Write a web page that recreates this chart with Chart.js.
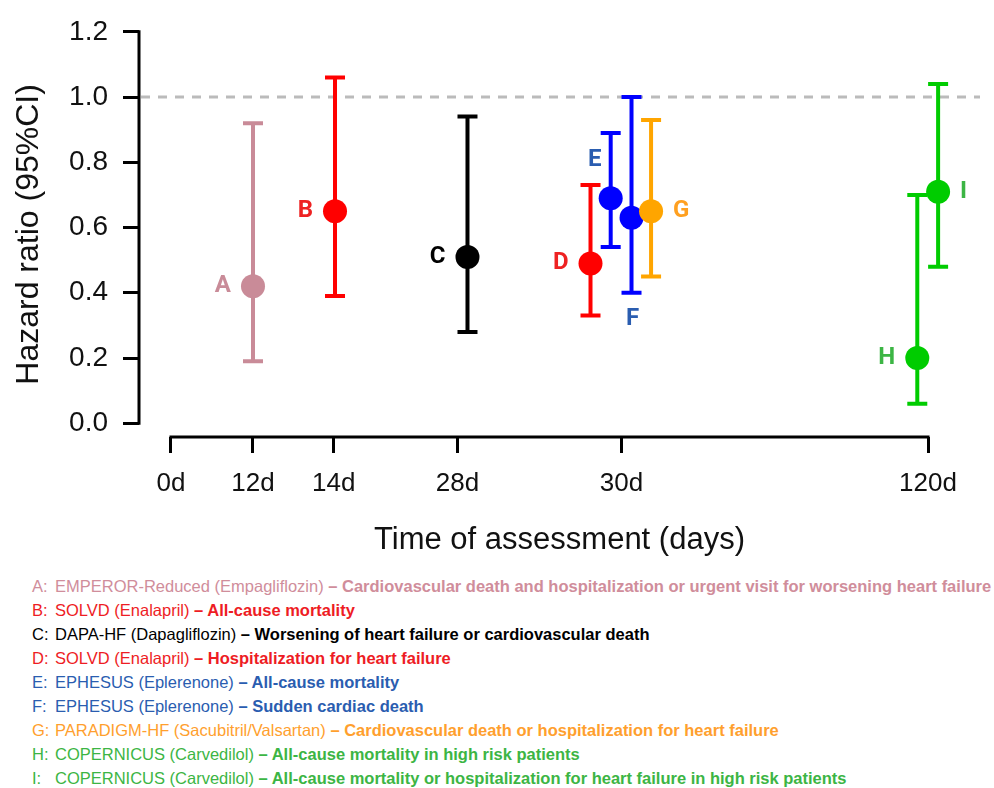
<!DOCTYPE html>
<html>
<head>
<meta charset="utf-8">
<script src="https://cdn.jsdelivr.net/npm/chart.js@4.4.1/dist/chart.umd.min.js"></script>
<style>
  html, body { margin: 0; padding: 0; background: #ffffff; }
  #wrap { position: relative; width: 994px; height: 788px; overflow: hidden; background: #fff; }
  #chartBox { position: absolute; left: 0; top: 0; width: 994px; height: 560px; }
  #legend { position: absolute; left: 32px; top: 574px; font-family: 'Liberation Sans', Arial, sans-serif;
            font-size: 16.5px; line-height: 24px; white-space: nowrap; }
  #legend .k { display: inline-block; width: 23px; }
  #legend b { font-weight: bold; }
</style>
</head>
<body>
<div id="wrap">
  <div id="chartBox"><canvas id="c"></canvas></div>
  <div id="legend"></div>
</div>
<script>
// ---------------- data ----------------
const tickLabels    = ['0d', '12d', '14d', '28d', '30d', '120d'];
const tickPositions = [0, 13.0, 25.8, 45.4, 71.4, 120];          // axis slot positions of the tick labels
const studyLetters   = ['A', 'B', 'C', 'D', 'E', 'F', 'G', 'H', 'I'];
const studyPositions = [13.0, 26.0, 47.0, 66.5, 69.7, 73.0, 76.1, 118.3, 121.6];
const hazardRatio    = [0.42, 0.65, 0.51, 0.49, 0.69, 0.63, 0.65, 0.20, 0.71];
const ciLower        = [0.19, 0.39, 0.28, 0.33, 0.54, 0.40, 0.45, 0.06, 0.48];
const ciUpper        = [0.92, 1.06, 0.94, 0.73, 0.89, 1.00, 0.93, 0.70, 1.04];
const yTickValues    = [0.0, 0.2, 0.4, 0.6, 0.8, 1.0, 1.2];
const referenceValue = 1.0;
const trialNames = [
  'EMPEROR-Reduced (Empagliflozin)', 'SOLVD (Enalapril)', 'DAPA-HF (Dapagliflozin)',
  'SOLVD (Enalapril)', 'EPHESUS (Eplerenone)', 'EPHESUS (Eplerenone)',
  'PARADIGM-HF (Sacubitril/Valsartan)', 'COPERNICUS (Carvedilol)', 'COPERNICUS (Carvedilol)'
];
const outcomes = [
  'Cardiovascular death and hospitalization or urgent visit for worsening heart failure',
  'All-cause mortality',
  'Worsening of heart failure or cardiovascular death',
  'Hospitalization for heart failure',
  'All-cause mortality',
  'Sudden cardiac death',
  'Cardiovascular death or hospitalization for heart failure',
  'All-cause mortality in high risk patients',
  'All-cause mortality or hospitalization for heart failure in high risk patients'
];

// ---------------- styles ----------------
const markColors   = ['#c98b98', '#ff0000', '#000000', '#ff0000', '#0000ff', '#0000ff', '#ffa500', '#00cc00', '#00cc00'];
const labelColors  = ['#c98b98', '#ee2222', '#000000', '#ee2222', '#2a5db0', '#2a5db0', '#ffa020', '#3cb544', '#3cb544'];
const legendColors = ['#d08d9b', '#ee1c24', '#000000', '#ee1c24', '#2a5db0', '#2a5db0', '#ff9f2e', '#3cb544', '#3cb544'];
const labelPlacement = ['left', 'left', 'left', 'left', 'aboveLeft', 'below', 'right', 'left', 'right'];
const REGULAR = "'Liberation Sans', Arial, sans-serif";

// ---------------- legend (HTML text) ----------------
const legendEl = document.getElementById('legend');
studyLetters.forEach((L, i) => {
  const row = document.createElement('div');
  row.style.color = legendColors[i];
  row.innerHTML = '<span class="k">' + L + ':</span>' + trialNames[i] + ' <b>\u2013 ' + outcomes[i] + '</b>';
  legendEl.appendChild(row);
});

// ---------------- plugin: axes lines, reference line, error bars, letters ----------------
const forestPlugin = {
  id: 'forest',
  beforeDatasetsDraw(chart) {
    const { ctx, chartArea, scales: { x, y } } = chart;
    ctx.save();
    // reference dashed line
    const yr = y.getPixelForValue(referenceValue);
    ctx.strokeStyle = '#bbbbbb';
    ctx.lineWidth = 3;
    ctx.setLineDash([9, 8]);
    ctx.beginPath();
    ctx.moveTo(chartArea.left + 2, yr);
    ctx.lineTo(chartArea.right, yr);
    ctx.stroke();
    ctx.setLineDash([]);
    // axis lines (R style, spanning only the tick range)
    ctx.strokeStyle = '#000';
    ctx.lineWidth = 3;
    ctx.beginPath();
    ctx.moveTo(chartArea.left, y.getPixelForValue(yTickValues[0]) + 1.5);
    ctx.lineTo(chartArea.left, y.getPixelForValue(yTickValues[yTickValues.length - 1]) - 1.5);
    ctx.stroke();
    ctx.beginPath();
    ctx.moveTo(x.getPixelForValue(tickPositions[0]) - 1.5, chartArea.bottom);
    ctx.lineTo(x.getPixelForValue(tickPositions[tickPositions.length - 1]) + 1.5, chartArea.bottom);
    ctx.stroke();
    // error bars
    studyPositions.forEach((p, i) => {
      const xp = x.getPixelForValue(p);
      const yl = y.getPixelForValue(ciLower[i]);
      const yh = y.getPixelForValue(ciUpper[i]);
      ctx.strokeStyle = markColors[i];
      ctx.lineWidth = 4;
      ctx.beginPath();
      ctx.moveTo(xp, yl); ctx.lineTo(xp, yh);
      ctx.moveTo(xp - 10, yl); ctx.lineTo(xp + 10, yl);
      ctx.moveTo(xp - 10, yh); ctx.lineTo(xp + 10, yh);
      ctx.stroke();
    });
    ctx.restore();
  },
  afterDatasetsDraw(chart) {
    const { ctx, scales: { x, y } } = chart;
    ctx.save();
    ctx.font = 'bold 24px Roboto, "Liberation Sans", sans-serif';
    ctx.textBaseline = 'middle';
    studyLetters.forEach((L, i) => {
      const xp = x.getPixelForValue(studyPositions[i]);
      const yp = y.getPixelForValue(hazardRatio[i]);
      ctx.fillStyle = labelColors[i];
      let tx = xp, ty = yp;
      switch (labelPlacement[i]) {
        case 'left':  ctx.textAlign = 'right'; tx = xp - 22; break;
        case 'right': ctx.textAlign = 'left';  tx = xp + 22; break;
        case 'aboveLeft': ctx.textAlign = 'center'; tx = xp - 16; ty = yp - 38; break;
        case 'below': ctx.textAlign = 'center'; tx = xp + 1; ty = y.getPixelForValue(ciLower[i]) + 26; break;
      }
      ctx.fillText(L, tx, ty);
    });
    ctx.restore();
  }
};

// ---------------- chart ----------------
new Chart(document.getElementById('c'), {
  type: 'scatter',
  data: {
    datasets: [{
      data: studyPositions.map((p, i) => ({ x: p, y: hazardRatio[i] })),
      pointRadius: 12,
      pointHoverRadius: 12,
      pointBackgroundColor: markColors,
      pointBorderWidth: 0,
      borderColor: 'rgba(0,0,0,0)',
      showLine: false
    }]
  },
  options: {
    responsive: true,
    maintainAspectRatio: false,
    animation: false,
    events: [],
    layout: { padding: { top: 24, right: 14, left: 0, bottom: 0 } },
    plugins: { legend: { display: false }, tooltip: { enabled: false } },
    scales: {
      x: {
        type: 'linear',
        min: -5.07,
        max: 128.24,
        afterBuildTicks: (s) => { s.ticks = tickPositions.map(v => ({ value: v })); },
        afterFit: (s) => { s.height = 123; },
        ticks: {
          autoSkip: false, maxRotation: 0, minRotation: 0, padding: 15,
          font: { family: REGULAR, size: 26 }, color: '#111',
          callback: (v, idx) => tickLabels[idx]
        },
        grid: { display: true, drawOnChartArea: false, drawTicks: true, tickLength: 16, tickWidth: 3, tickColor: '#000' },
        border: { display: false },
        title: { display: true, text: 'Time of assessment (days)', font: { family: REGULAR, size: 31 }, color: '#111', padding: { top: 0, bottom: 1 } }
      },
      y: {
        type: 'linear',
        min: -0.0421,
        max: 1.2,
        afterBuildTicks: (s) => { s.ticks = yTickValues.map(v => ({ value: v })); },
        afterFit: (s) => { s.width = 139; },
        ticks: {
          padding: 15, font: { family: REGULAR, size: 28 }, color: '#111',
          callback: (v) => Number(v).toFixed(1)
        },
        grid: { display: true, drawOnChartArea: false, drawTicks: true, tickLength: 16, tickWidth: 3, tickColor: '#000' },
        border: { display: false },
        title: { display: true, text: 'Hazard ratio (95%CI)', font: { family: REGULAR, size: 32 }, color: '#111', padding: { top: 10, bottom: 0 } }
      }
    }
  },
  plugins: [forestPlugin]
});
</script>
</body>
</html>
